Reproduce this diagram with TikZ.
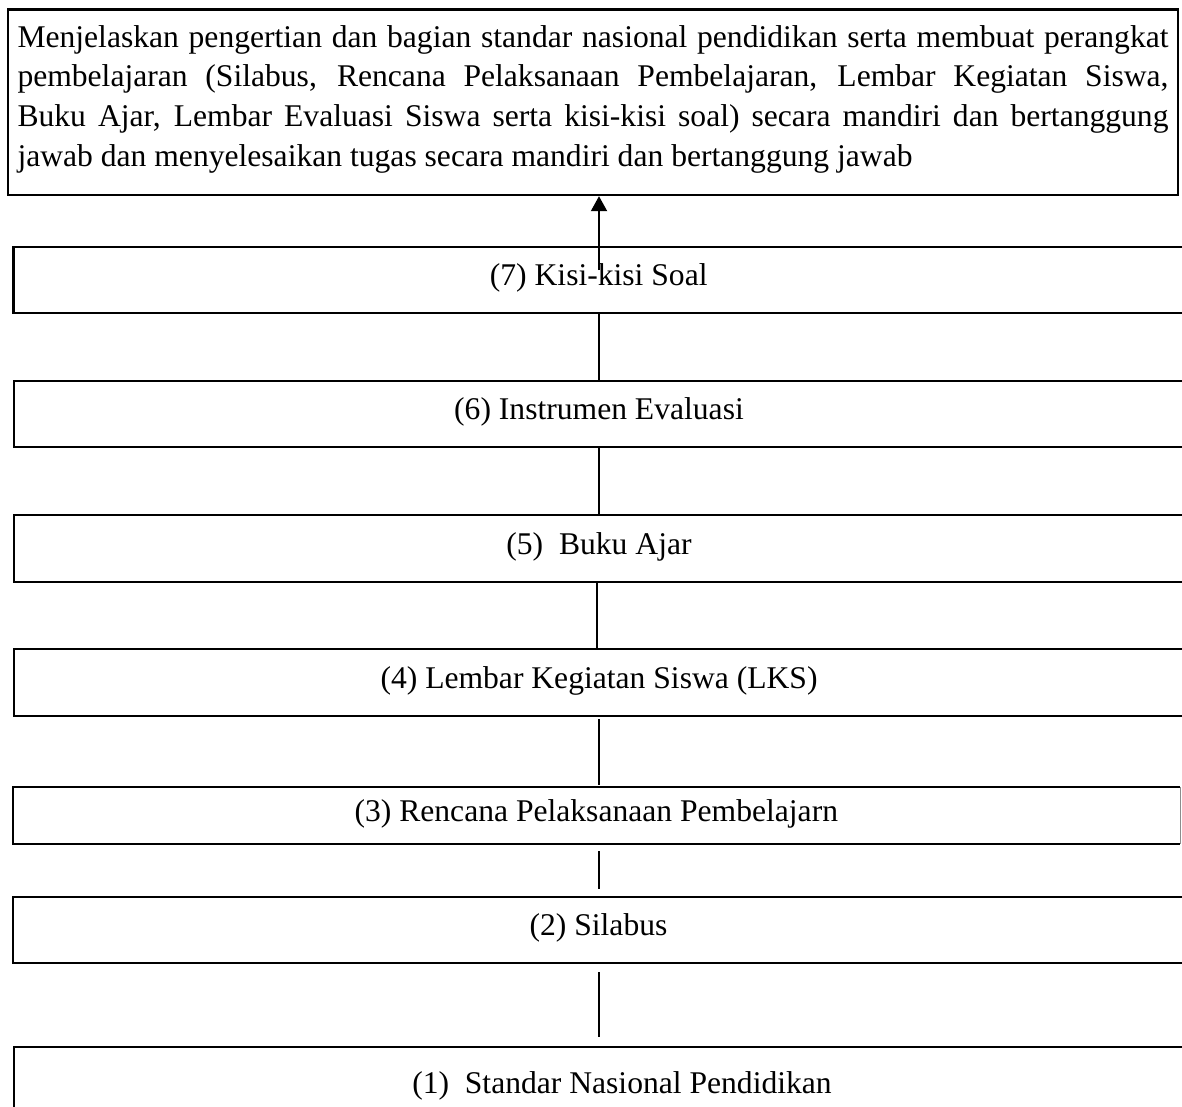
\documentclass[tikz,border=0pt]{standalone}
\usepackage{fontspec}
\setmainfont{Liberation Serif}
\usetikzlibrary{arrows.meta}
\newcommand\lblfont{\fontsize{31.6}{38}\selectfont}
\tikzset{
  stepbox/.style={draw, rectangle, line width=2.2pt, inner sep=0pt, font=\lblfont,
                  text height=20pt, text depth=9pt},
  goalbox/.style={draw, rectangle, line width=2.4pt, inner sep=0pt},
  boxline/.style={line width=2.2pt},
  thinedge/.style={line width=0.9pt, black!45},
  link/.style={line width=1.3pt},
  uparrow/.style={line width=2.1pt, -{Triangle[length=15pt,width=16pt]}},
}
\begin{document}
\begin{tikzpicture}[x=1pt, y=-1pt]
  \useasboundingbox (0,0) rectangle (1182,1106);
  \fill[white] (0,0) rectangle (1182,1106);
  \clip (0,0) rectangle (1182,1106);

  % goal box
  \node[goalbox, minimum width=1170pt, minimum height=185.5pt] (goal) at (593,102.25)
  {\parbox{1151pt}{\fontsize{31.6}{39.7}\selectfont
     \hyphenpenalty=10000 \exhyphenpenalty=10000 \tolerance=10000 \noindent
     Menjelaskan pengertian dan bagian standar nasional pendidikan serta membuat perangkat\linebreak
     pembelajaran (Silabus, Rencana Pelaksanaan Pembelajaran, Lembar Kegiatan Siswa,\linebreak
     Buku Ajar, Lembar Evaluasi Siswa serta kisi-kisi soal) secara mandiri dan bertanggung\linebreak
     jawab dan menyelesaikan tugas secara mandiri dan bertanggung jawab\par\vspace*{6pt}}};

  % step boxes
  \node[stepbox, minimum width=1170.5pt, minimum height=66pt] (b7) at (598.75,280) {(7) Kisi-kisi Soal};
  \node[stepbox, minimum width=1170pt, minimum height=66pt] (b6) at (599,414) {(6) Instrumen Evaluasi};
  \node[stepbox, minimum width=1170pt, minimum height=67pt] (b5) at (599,548.5) {(5)\ \ Buku Ajar};
  \node[stepbox, minimum width=1170pt, minimum height=67pt] (b4) at (599,682.5) {(4) Lembar Kegiatan Siswa (LKS)};
  \node[stepbox, draw=none, outer sep=0pt, minimum width=1167.4pt, minimum height=57pt] (b3) at (596.3,815.5) {(3) Rencana Pelaksanaan Pembelajarn};
  \draw[boxline] (b3.north east) -- (b3.north west) -- (b3.south west) -- (b3.south east);
  \draw[thinedge] (b3.north east) -- (b3.south east);
  \node[stepbox, minimum width=1171pt, minimum height=66pt] (b2) at (598.5,930) {(2) Silabus};
  \node[stepbox, minimum width=1170pt, minimum height=81pt] (b1) at (599,1087.5) {\hspace*{46pt}(1)\ \ Standar Nasional Pendidikan};

  % connectors
  \coordinate (axis) at (599,0);
  \coordinate (axisb) at (597,0);
  \draw[link] (b7.south -| axis) -- (b6.north -| axis);
  \draw[link] (b6.south -| axis) -- (b5.north -| axis);
  \draw[link] (b5.south -| axisb) -- (b4.north -| axisb);
  \draw[link, shorten <=2pt, shorten >=2pt] (b4.south -| axis) -- (b3.north -| axis);
  \draw[link, shorten <=7pt, shorten >=7pt] (b3.south -| axis) -- (b2.north -| axis);
  \draw[link, shorten <=8pt, shorten >=9pt] (b2.south -| axis) -- (b1.north -| axis);

  % arrow into goal
  \coordinate (a7) at (599,270);
  \draw[uparrow] (a7) -- (a7 |- goal.south);
\end{tikzpicture}
\end{document}
